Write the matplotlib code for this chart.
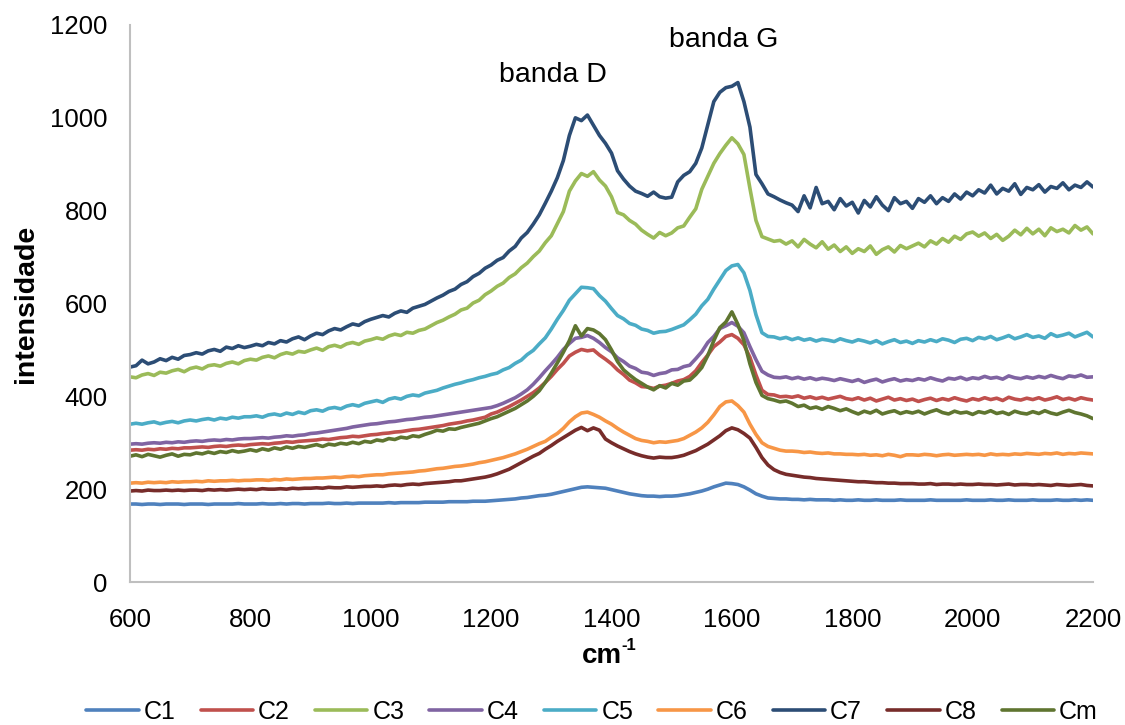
import numpy as np
import matplotlib
matplotlib.use("Agg")
import matplotlib.pyplot as plt


# Raman shift axis (cm^-1), one reading every 10 cm^-1
WAVENUMBER = np.arange(600, 2201, 10)

C1 = [
    168, 168, 167, 168, 168, 167, 168, 168, 168, 167,
    168, 168, 168, 167, 168, 168, 168, 168, 169, 168,
    168, 168, 169, 168, 168, 169, 168, 169, 169, 168,
    169, 169, 169, 170, 169, 169, 170, 169, 170, 170,
    170, 170, 170, 171, 170, 171, 171, 171, 171, 172,
    172, 172, 172, 173, 173, 173, 173, 174, 174, 174,
    175, 176, 177, 178, 179, 181, 182, 184, 186, 187,
    189, 192, 195, 198, 201, 204, 205, 204, 203, 202,
    199, 196, 193, 190, 188, 186, 185, 185, 184, 185,
    185, 186, 188, 190, 193, 196, 200, 205, 209, 213,
    212, 210, 205, 198, 190, 185, 181, 180, 179, 179,
    178, 178, 177, 178, 177, 177, 177, 176, 177, 176,
    176, 177, 176, 176, 177, 176, 176, 176, 177, 176,
    176, 176, 176, 177, 176, 176, 176, 176, 176, 177,
    176, 176, 176, 177, 176, 176, 177, 176, 176, 176,
    177, 176, 176, 176, 177, 176, 176, 177, 176, 177,
    176,
]

C2 = [
    284, 285, 284, 286, 285, 287, 286, 288, 287, 289,
    289, 290, 291, 290, 292, 293, 292, 294, 295, 294,
    296, 297, 298, 297, 299, 300, 302, 301, 303, 304,
    305, 306, 308, 307, 309, 311, 312, 314, 313, 315,
    317, 318, 320, 321, 323, 324, 326, 328, 329, 331,
    333, 335, 337, 340, 342, 344, 347, 349, 352, 355,
    362, 366, 372, 378, 385, 392, 400, 408, 418, 430,
    443, 458, 471, 487, 495, 501, 498, 500, 489, 480,
    470, 457, 447, 435, 429, 421, 420, 417, 422, 424,
    428, 433, 436, 443, 455, 473, 489, 507, 517, 529,
    533, 525, 511, 484, 446, 413, 404, 403, 399, 400,
    398, 401, 396, 399, 395, 398, 394, 397, 400, 395,
    393, 397, 392, 396, 390, 394, 398, 392, 395, 391,
    394, 389, 393, 396, 391, 395, 392, 397, 393, 390,
    395, 392, 397, 393, 396, 391, 398, 394, 392, 396,
    393, 397, 392, 395, 399, 393, 396, 392, 397, 394,
    392,
]

C3 = [
    442, 440, 446, 449, 445, 452, 450, 455, 458, 453,
    460, 463, 459, 466, 468, 465, 471, 474, 470, 477,
    480, 478, 484, 487, 483, 490, 494, 491, 497, 495,
    500, 504, 499, 507, 510, 506, 513, 516, 512, 519,
    522, 526, 523, 530, 534, 531, 538, 536, 542, 545,
    552, 559, 564, 571, 577, 586, 590, 601, 607, 619,
    627, 637, 644, 656, 664, 677, 687, 701, 713, 731,
    746, 772, 798, 842, 864, 880, 874, 884, 866, 853,
    830, 796, 791, 779, 771, 758, 749, 741, 753, 746,
    752, 763, 767, 786, 804, 846, 874, 902, 923, 941,
    957, 944, 921, 848, 779, 744, 739, 734, 736, 728,
    735, 722, 738, 728, 720, 733, 717, 726, 712, 722,
    708, 718, 712, 724, 706, 716, 722, 711, 725, 718,
    724, 730, 722, 735, 728, 740, 732, 745, 738, 750,
    754, 745, 752, 740, 749, 736, 745, 758, 748, 762,
    750, 760, 746, 763, 755, 760, 752, 768, 758, 765,
    750,
]

C4 = [
    297, 298, 297, 299, 300, 299, 301, 300, 302, 301,
    303, 304, 303, 305, 306, 305, 307, 306, 308, 309,
    309, 310, 311, 310, 312, 313, 315, 314, 316, 317,
    320, 321, 323, 325, 327, 329, 331, 334, 336, 338,
    340, 341, 343, 345, 346, 348, 350, 351, 353, 355,
    356, 358, 360, 362, 364, 366, 368, 370, 372, 374,
    376, 380, 385, 391, 397, 405, 414, 426, 440, 455,
    469, 484, 501, 514, 525, 527, 531, 525, 516, 505,
    496, 483, 475, 465, 460, 452, 450, 445, 449, 451,
    457, 458, 464, 467, 481, 496, 516, 529, 546, 552,
    559, 551, 537, 507, 479, 454, 446, 441, 440, 442,
    438, 441, 437, 440, 436, 439, 437, 434, 438, 435,
    432, 436, 430, 434, 437, 431, 435, 438, 433, 436,
    434, 438, 435, 440, 436, 433, 439, 437, 441, 436,
    440, 438, 443, 439, 441, 437, 444, 440, 438, 442,
    439, 443, 440, 445, 441, 438, 444, 442, 446, 441,
    442,
]

C5 = [
    340, 342, 340, 343, 345, 341, 344, 346, 343, 347,
    349, 347, 350, 352, 349, 353, 351, 355, 353, 356,
    356, 358, 355, 360, 362, 359, 364, 361, 366, 363,
    369, 371, 368, 374, 376, 373, 379, 382, 379, 385,
    388, 391, 387, 394, 397, 394, 400, 403, 401, 407,
    410, 413, 418, 422, 426, 429, 433, 436, 440, 443,
    447, 450, 457, 462, 471, 478, 490, 499, 513, 526,
    545, 566, 585, 607, 621, 635, 634, 632, 617, 605,
    589, 574, 567, 557, 553, 545, 542, 536, 539, 540,
    544, 549, 554, 565, 577, 595, 609, 631, 651, 671,
    681, 684, 666, 628, 576, 537, 529, 528, 524, 527,
    522, 526, 521, 524, 519, 523, 521, 518, 524, 520,
    517, 522, 519, 515, 520, 513, 518, 522, 516, 519,
    514, 520, 517, 522, 518, 524, 521, 516, 523, 525,
    520, 527, 524, 529, 522, 526, 531, 524, 528, 533,
    527, 530, 525, 535, 529, 532, 536, 528, 533, 538,
    528,
]

C6 = [
    213, 214, 213, 215, 214, 215, 214, 216, 215, 216,
    216, 217, 216, 218, 217, 218, 218, 219, 218, 219,
    219, 220, 220, 219, 221, 220, 222, 221, 222, 223,
    223, 224, 224, 225, 226, 225, 227, 228, 227, 229,
    230, 231, 231, 233, 234, 235, 236, 237, 239, 240,
    242, 244, 245, 247, 249, 250, 252, 254, 257, 259,
    262, 265, 268, 272, 276, 281, 286, 292, 298, 303,
    312, 320, 331, 345, 356, 364, 366, 361, 355, 347,
    340, 331, 323, 316, 309, 305, 303, 300, 302, 301,
    303, 305, 309, 316, 323, 332, 344, 360, 378, 388,
    390, 380, 366, 340, 318, 300, 292, 288, 284, 282,
    282, 281, 279, 280, 278, 277, 278, 276, 276, 275,
    275, 274, 275, 273, 274, 272, 275, 273, 270, 274,
    274, 273, 275, 274, 272, 274, 275, 273, 274, 275,
    274, 275, 273, 276, 274, 275, 274, 276, 275, 277,
    276, 275, 277, 276, 278, 275, 277, 276, 278, 277,
    276,
]

C7 = [
    463, 466, 478, 470, 474, 481, 477, 484, 480, 488,
    490, 494, 491, 498, 501, 497, 506, 503, 509, 505,
    508, 512, 509, 516, 513, 520, 517, 524, 528, 522,
    530, 536, 533, 541, 546, 543, 550, 556, 553, 561,
    566, 570, 574, 571, 579, 584, 581, 590, 594, 598,
    605, 612, 618, 626, 631, 641, 647, 658, 665, 676,
    683, 693, 699, 713, 723, 741, 753, 771, 791, 816,
    842, 871, 908, 962, 1000, 994, 1006, 984, 962, 945,
    924, 886, 868, 853, 842, 837, 831, 840, 830, 827,
    829, 862, 876, 884, 902, 935, 985, 1035, 1055, 1065,
    1068, 1076, 1035, 980, 878, 858, 836, 830, 823, 817,
    812, 798, 832, 806, 850, 815, 820, 802, 826, 810,
    818, 795, 822, 808, 830, 812, 800, 828, 815, 820,
    805, 826, 818, 832, 815, 828, 820, 836, 825, 840,
    832, 845, 838, 855, 836, 848, 842, 858, 835, 850,
    845, 856, 840, 852, 848, 860, 845, 855, 850, 862,
    851,
]

C8 = [
    196, 197, 196, 198, 197, 197, 198, 197, 198, 197,
    198, 198, 197, 199, 198, 199, 198, 199, 200, 199,
    200, 199, 201, 200, 200, 201, 200, 202, 201, 202,
    202, 203, 202, 204, 203, 203, 205, 204, 205, 206,
    206, 207, 206, 208, 209, 208, 210, 211, 210, 212,
    213, 214, 215, 216, 218, 218, 220, 222, 224, 226,
    229, 233, 238, 243, 250, 257, 264, 271, 277, 286,
    294, 303, 311, 319, 327, 333, 326, 332, 327, 308,
    300, 293, 287, 281, 276, 272, 269, 267, 269, 268,
    268, 270, 273, 278, 283, 290, 297, 306, 315, 326,
    332, 328, 320, 310, 290, 268, 252, 242, 236, 232,
    230, 228, 226, 225, 223, 222, 221, 220, 219, 218,
    217, 216, 216, 215, 214, 214, 213, 213, 212, 212,
    212, 211, 211, 212, 210, 211, 211, 210, 211, 210,
    210, 211, 210, 210, 209, 210, 211, 209, 210, 210,
    209, 210, 209, 208, 210, 209, 208, 209, 210, 208,
    207,
]

CM = [
    271, 274, 270, 275, 272, 269, 273, 276, 271, 275,
    274, 278, 276, 280, 277, 281, 279, 283, 280, 282,
    285, 282, 287, 284, 289, 286, 291, 288, 292, 290,
    293, 296, 292, 297, 295, 299, 297, 301, 298, 303,
    301, 306, 304, 309, 307, 312, 310, 315, 313, 318,
    322, 327, 325, 330, 329, 333, 336, 339, 342, 347,
    352, 356, 362, 368, 374, 382, 390, 400, 412, 430,
    450, 472, 495, 520, 552, 530, 546, 543, 535, 522,
    500, 475, 457, 446, 436, 428, 420, 414, 423, 418,
    428, 424, 433, 435, 447, 462, 488, 520, 548, 560,
    582, 555, 520, 470, 430, 402, 395, 392, 388, 390,
    385, 378, 381, 374, 377, 372, 378, 374, 369, 373,
    367, 362, 368, 364, 370, 362, 366, 369, 363, 367,
    364, 368, 362, 367, 371, 365, 362, 368, 364, 366,
    361, 367, 364, 369, 363, 366, 361, 368, 364, 362,
    367, 363, 369, 364, 361, 366, 370, 365, 362, 358,
    352,
]

SERIES = [
    ("C1", C1, "#4F81BD"),
    ("C2", C2, "#C0504D"),
    ("C3", C3, "#9BBB59"),
    ("C4", C4, "#8064A2"),
    ("C5", C5, "#4BACC6"),
    ("C6", C6, "#F79646"),
    ("C7", C7, "#2C4D75"),
    ("C8", C8, "#772C2A"),
    ("Cm", CM, "#5F7530"),
]

# band labels: text, centre wavenumber, baseline intensity
BANDS = [("banda D", 1302, 1077), ("banda G", 1587, 1152)]

plt.rcParams["font.family"] = ["Liberation Sans", "DejaVu Sans"]

W, H = 1125, 725
fig = plt.figure(figsize=(W / 100, H / 100), dpi=100)
ax = fig.add_axes([130 / W, 1 - 582 / H, 963 / W, 557 / H])

for name, values, color in SERIES:
    ax.plot(WAVENUMBER, values, color=color, linewidth=2.6, label=name,
            solid_joinstyle="round", solid_capstyle="round")

for text, x, y in BANDS:
    ax.text(x, y, text, fontsize=20.5, ha="center", va="baseline")

ax.set_xlim(600, 2200)
ax.set_ylim(0, 1200)
ax.set_xticks(np.arange(600, 2201, 200))
ax.set_yticks(np.arange(0, 1201, 200))
ax.tick_params(axis="both", length=0, labelsize=18.5)
ax.tick_params(axis="x", pad=19)
ax.tick_params(axis="y", pad=16)

for side in ("top", "right"):
    ax.spines[side].set_visible(False)
for side in ("left", "bottom"):
    ax.spines[side].set_color("#BFBFBF")
    ax.spines[side].set_linewidth(1.5)

# axis titles
fig.text(26 / W, 1 - 304 / H, "intensidade", rotation=90,
         ha="center", va="center", fontsize=20.5, fontweight="bold")
fig.text(582 / W, 1 - 663 / H, "cm", ha="left", va="baseline",
         fontsize=20, fontweight="bold")
fig.text(621 / W, 1 - 650 / H, "-1", ha="left", va="baseline",
         fontsize=12, fontweight="bold")

fig.legend(loc="center", bbox_to_anchor=(592 / W, 13 / H), ncol=9,
           frameon=False, fontsize=18, handlelength=2.1, handletextpad=0.2,
           columnspacing=1.0, borderaxespad=0)

fig.savefig("out.png", dpi=100)
